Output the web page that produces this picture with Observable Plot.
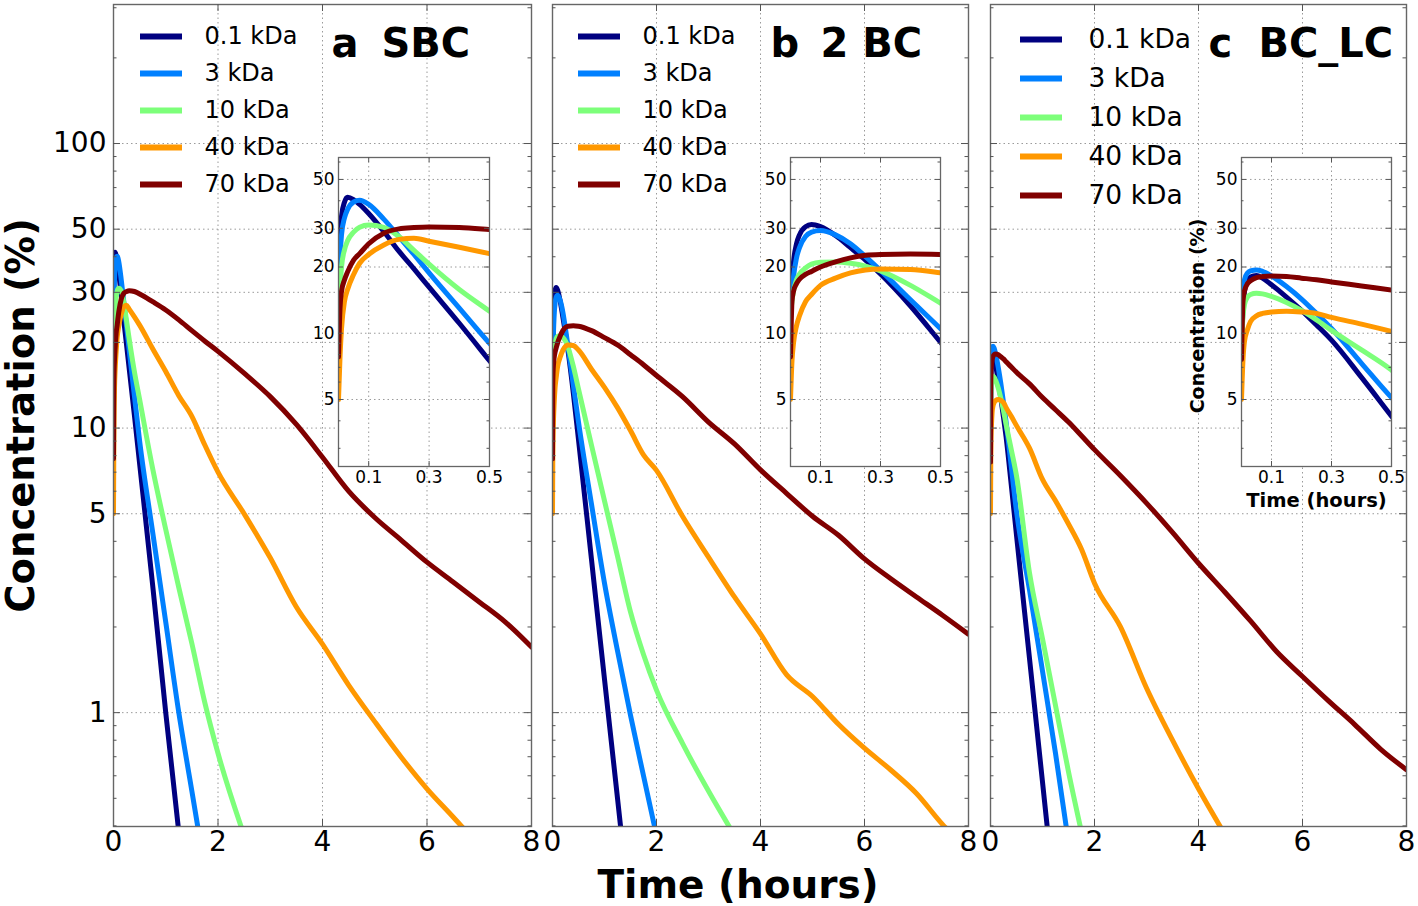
<!DOCTYPE html>
<html><head><meta charset="utf-8">
<script src="https://cdn.jsdelivr.net/npm/d3@7"></script>
<script src="https://cdn.jsdelivr.net/npm/@observablehq/plot@0.6"></script>
<style>
body{margin:0;background:#fff;}
#wrap{position:relative;width:1418px;height:906px;overflow:hidden;font-family:"DejaVu Sans";background:#fff;}
#wrap svg{position:absolute;left:0;top:0;}
.lab{position:absolute;font-family:"DejaVu Sans";font-weight:bold;font-size:39px;line-height:1;white-space:nowrap;color:#000;}
</style></head><body><div id="wrap"></div>
<script>
// ---- data ----
const series = ["0.1 kDa", "3 kDa", "10 kDa", "40 kDa", "70 kDa"];
const colors = ["#000080", "#0080ff", "#7dff7a", "#ff9800", "#800000"];
const times = [0, 0.005, 0.01, 0.02, 0.03, 0.05, 0.07, 0.1, 0.15, 0.2, 0.25, 0.3, 0.4, 0.5, 0.75, 1, 1.25, 1.5, 1.75, 2, 2.5, 3, 3.5, 4, 4.5, 5, 5.5, 6, 6.5, 7, 7.5, 8];

// a  SBC
const sbc_01 = [12, 26, 34, 39.5, 41.5, 40.5, 38.5, 35, 29, 23.6, 19.6, 16.2, 11.1, 7.5, 2.8, 1.0, 0.38];
const sbc_3  = [13, 22, 28, 33.5, 36.5, 39.5, 40.2, 38.5, 33, 27.5, 22.8, 18.8, 13, 9.0, 4.3, 2.08, 1.0, 0.53, 0.28];
const sbc_10 = [12, 16, 20, 24, 26.3, 28.8, 30.3, 31, 30.3, 27.5, 23.8, 20.6, 15.8, 12.6, 7.2, 4.4, 2.75, 1.75, 1.08, 0.72, 0.37];
const sbc_40 = [5, 7.8, 10.5, 14, 15.8, 18.5, 20.8, 22.8, 25.2, 26.7, 27, 26.2, 24.6, 23, 19, 15.8, 13, 11, 8.7, 7.0, 5.0, 3.5, 2.35, 1.74, 1.25, 0.93, 0.7, 0.54, 0.43, 0.34];
const sbc_70 = [7.8, 13, 15.5, 17.5, 19, 21.5, 23, 25.5, 28.5, 29.8, 30.2, 30.4, 30.2, 29.6, 27.8, 26, 24, 22, 20.2, 18.6, 15.6, 12.9, 10.3, 7.9, 6.0, 4.85, 4.05, 3.38, 2.88, 2.45, 2.08, 1.70];

// b  2 BC
const bc2_01 = [12, 17, 21, 25.5, 28, 30.5, 31.2, 30.5, 27.8, 24.5, 21.5, 18.6, 13.3, 9.1, 3.45, 1.31, 0.5, 0.19];
const bc2_3  = [12, 15, 18, 22, 24.5, 27.5, 28.8, 29.3, 28, 25.5, 22.3, 19.3, 14.2, 10.5, 5.4, 2.85, 1.65, 0.98, 0.6, 0.37];
const bc2_10 = [12, 14, 15.5, 17.5, 18.6, 19.8, 20.6, 21, 21.1, 20.8, 20.2, 19.2, 16.5, 13.7, 8.7, 5.55, 3.55, 2.26, 1.6, 1.2, 0.78, 0.53, 0.37];
const bc2_40 = [5, 7.5, 9, 10.8, 12, 13.9, 15, 16.5, 17.8, 18.8, 19.4, 19.6, 19.5, 18.8, 16.1, 13.9, 11.8, 9.8, 8.05, 7.1, 4.9, 3.52, 2.55, 1.89, 1.36, 1.14, 0.91, 0.75, 0.63, 0.52, 0.405, 0.33];
const bc2_70 = [7.8, 14, 15.5, 16.8, 17.6, 18.5, 19.1, 20, 21.1, 22, 22.6, 22.8, 22.9, 22.8, 22.0, 20.8, 19.6, 18.1, 16.7, 15.3, 12.9, 10.5, 8.8, 7.13, 5.9, 4.9, 4.2, 3.47, 2.96, 2.55, 2.2, 1.886];

// c  BC_LC
const bclc_01 = [8, 13, 15.5, 17.3, 18, 18.3, 17.8, 16.6, 14.6, 12.7, 10.9, 9.3, 6.3, 4.2, 1.55, 0.57, 0.21];
const bclc_3  = [10, 15, 17.5, 18.8, 19.2, 19.4, 19.1, 18.2, 16.3, 14.3, 12.3, 10.5, 7.3, 5.1, 2.7, 1.4, 0.72, 0.35];
const bclc_10 = [9, 12, 13.5, 14.6, 15, 15.2, 15.1, 14.7, 13.8, 12.7, 11.5, 10.3, 8.4, 6.8, 3.1, 1.82, 1.06, 0.62, 0.38];
const bclc_40 = [5, 7.6, 9.2, 10.4, 11.3, 12, 12.3, 12.5, 12.6, 12.5, 12.3, 11.8, 11.0, 10.2, 8.5, 6.6, 5.55, 4.6, 3.75, 2.85, 2.0, 1.22, 0.8, 0.54, 0.375];
const bclc_70 = [7.6, 14, 15.6, 16.8, 17.3, 17.9, 18.1, 18.2, 18.1, 17.8, 17.5, 17.1, 16.4, 15.7, 14.3, 12.8, 11.6, 10.5, 9.4, 8.4, 6.8, 5.45, 4.3, 3.35, 2.66, 2.1, 1.64, 1.34, 1.1, 0.91, 0.745, 0.63];

// ticks
const xTicks = [0, 2, 4, 6, 8];
const yMajor = [1, 5, 10, 20, 30, 50, 100];
const yMinor = [0.4, 0.5, 0.6, 0.7, 0.8, 0.9, 2, 3, 4, 6, 7, 8, 9, 40, 60, 70, 80, 90, 200, 300];
const insetXTicks = [0.1, 0.3, 0.5];
const insetYMajor = [5, 10, 20, 30, 50];
const insetYMinor = [3, 4, 6, 7, 8, 9, 40, 60];

// ---- layout ----
const W = 1418, H = 906;
const TOP = 4, BOTTOM = 826, ITOP = 157, IBOTTOM = 466;
const Y_DOMAIN = [0.398, 308], IY_DOMAIN = [2.48, 62.9];
const FONT = "DejaVu Sans";
const GRID = {stroke: "#9a9a9a", strokeDasharray: "1.5,3", strokeWidth: 1};

const panels = [
  {key: "a", name: "SBC", data: [sbc_01, sbc_3, sbc_10, sbc_40, sbc_70], left: 113, right: 531, inset: [338, 489], yLabels: true,
   leg: {x1: 140, x2: 182, y0: 35.5, y1: 183.5, font: 24, dx: 22}},
  {key: "b", name: "2 BC", data: [bc2_01, bc2_3, bc2_10, bc2_40, bc2_70], left: 552, right: 968, inset: [790, 940],
   leg: {x1: 578, x2: 620, y0: 36, y1: 184, font: 24, dx: 22}},
  {key: "c", name: "BC_LC", data: [bclc_01, bclc_3, bclc_10, bclc_40, bclc_70], left: 990, right: 1406, inset: [1241, 1391], insetLabels: true,
   leg: {x1: 1020, x2: 1062, y0: 38, y1: 195, font: 26.5, dx: 26}}
];

function rowsFor(arrs) {
  const out = [];
  arrs.forEach((vals, i) => vals.forEach((v, j) => { if (v != null) out.push({t: times[j], c: v, s: series[i]}); }));
  return out;
}

const baseStyle = {background: "transparent", fontFamily: FONT, overflow: "visible", color: "#000"};
const colorScale = {domain: series, range: colors};

function mainPanel(p, rows) {
  const ux = 8 / (p.right - p.left);                 // data units per px (x)
  const k = Math.pow(10, 1 / 284.5);                  // log factor per px (y)
  const lo = Y_DOMAIN[0], hi = Y_DOMAIN[1];
  const marks = [
    Plot.ruleY(yMajor, GRID),
    Plot.ruleX([2, 4, 6], GRID),
    Plot.line(rows, {x: "t", y: "c", z: "s", stroke: "s", strokeWidth: 5, curve: "monotone-x", clip: true}),
    Plot.frame({stroke: "#666", strokeWidth: 1.4}),
    // inward tick marks
    Plot.ruleY(yMajor, {x1: 0, x2: 7 * ux, stroke: "#555"}),
    Plot.ruleY(yMajor, {x1: 8 - 7 * ux, x2: 8, stroke: "#555"}),
    Plot.ruleY(yMinor, {x1: 0, x2: 3.5 * ux, stroke: "#555"}),
    Plot.ruleY(yMinor, {x1: 8 - 3.5 * ux, x2: 8, stroke: "#555"}),
    Plot.ruleX([2, 4, 6], {y1: lo, y2: lo * Math.pow(k, 7), stroke: "#555"}),
    Plot.ruleX([2, 4, 6], {y1: hi, y2: hi / Math.pow(k, 7), stroke: "#555"}),
    Plot.text(xTicks, {x: d => d, y: lo, dy: 16, text: d => String(d), fontSize: 28, fill: "#000"}),
    Plot.text([p.key], {frameAnchor: "top-left", dx: 218, dy: 40, text: d => d, fontSize: 40, fontWeight: "bold", textAnchor: "start", lineAnchor: "middle", fill: "#000"}),
    Plot.text([p.name], {frameAnchor: "top-left", dx: 268, dy: 40, text: d => d, fontSize: 40, fontWeight: "bold", textAnchor: "start", lineAnchor: "middle", fill: "#000"})
  ];
  if (p.yLabels) {
    marks.push(Plot.text(yMajor, {x: 0, y: d => d, dx: -7, text: d => String(d), textAnchor: "end", fontSize: 28, fill: "#000"}));
    marks.push(Plot.text(["Concentration (%)"], {frameAnchor: "left", dx: -92, rotate: -90, text: d => d, textAnchor: "middle", lineAnchor: "middle", fontSize: 38.5, fontWeight: "bold", fill: "#000"}));
  }
  return Plot.plot({
    width: W, height: H,
    marginLeft: p.left, marginRight: W - p.right, marginTop: TOP, marginBottom: H - BOTTOM,
    x: {domain: [0, 8], axis: null},
    y: {type: "log", domain: Y_DOMAIN, axis: null},
    color: colorScale,
    style: baseStyle,
    marks
  });
}

function legendPanel(p) {
  const L = p.leg;
  return Plot.plot({
    width: W, height: H, margin: 0,
    x: {domain: [0, 1], range: [L.x1, L.x2], axis: null},
    y: {type: "point", domain: series, range: [L.y0, L.y1], padding: 0, axis: null},
    color: colorScale,
    style: baseStyle,
    marks: [
      Plot.ruleY(series, {y: d => d, x1: 0, x2: 1, stroke: d => d, strokeWidth: 6}),
      Plot.text(series, {x: 1, y: d => d, dx: L.dx, text: d => d, textAnchor: "start", fontSize: L.font, fill: "#000"})
    ]
  });
}

function insetPanel(p, rows) {
  const [x0, x1] = p.inset;
  const ux = 0.5 / (x1 - x0);
  const k = Math.pow(10, 1 / 220);
  const lo = IY_DOMAIN[0], hi = IY_DOMAIN[1];
  const sub = rows.filter(d => d.t <= 0.75);
  const marks = [
    Plot.frame({fill: "white"}),
    Plot.ruleY(insetYMajor, GRID),
    Plot.ruleX([0.1, 0.3], GRID),
    Plot.line(sub, {x: "t", y: "c", z: "s", stroke: "s", strokeWidth: 5, curve: "monotone-x", clip: true}),
    Plot.frame({stroke: "#666", strokeWidth: 1.3}),
    Plot.ruleY(insetYMajor, {x1: 0, x2: 5 * ux, stroke: "#555"}),
    Plot.ruleY(insetYMajor, {x1: 0.5 - 5 * ux, x2: 0.5, stroke: "#555"}),
    Plot.ruleY(insetYMinor, {x1: 0, x2: 2.5 * ux, stroke: "#555"}),
    Plot.ruleY(insetYMinor, {x1: 0.5 - 2.5 * ux, x2: 0.5, stroke: "#555"}),
    Plot.ruleX([0.1, 0.3], {y1: lo, y2: lo * Math.pow(k, 5), stroke: "#555"}),
    Plot.ruleX([0.1, 0.3], {y1: hi, y2: hi / Math.pow(k, 5), stroke: "#555"}),
    Plot.text(insetYMajor, {x: 0, y: d => d, dx: -4, text: d => String(d), textAnchor: "end", fontSize: 17, fill: "#000"}),
    Plot.text(insetXTicks, {x: d => d, y: lo, dy: 11, text: d => String(d), fontSize: 17, fill: "#000"})
  ];
  if (p.insetLabels) {
    marks.push(Plot.text(["Concentration (%)"], {frameAnchor: "left", dx: -44, dy: 4, rotate: -90, text: d => d, textAnchor: "middle", lineAnchor: "middle", fontSize: 19, fontWeight: "bold", fill: "#000"}));
    marks.push(Plot.text(["Time (hours)"], {frameAnchor: "bottom", dy: 34, text: d => d, textAnchor: "middle", lineAnchor: "middle", fontSize: 19.5, fontWeight: "bold", fill: "#000"}));
  }
  return Plot.plot({
    width: W, height: H,
    marginLeft: x0, marginRight: W - x1, marginTop: ITOP, marginBottom: H - IBOTTOM,
    x: {domain: [0, 0.5], axis: null},
    y: {type: "log", domain: IY_DOMAIN, axis: null},
    color: colorScale,
    style: baseStyle,
    marks
  });
}

const wrap = document.getElementById("wrap");
for (const p of panels) {
  const rows = rowsFor(p.data);
  wrap.appendChild(mainPanel(p, rows));
  wrap.appendChild(legendPanel(p));
  wrap.appendChild(insetPanel(p, rows));
}

// shared x-axis title
const xl = document.createElement("div");
xl.className = "lab";
xl.textContent = "Time (hours)";
xl.style.left = "738px"; xl.style.top = "884px";
xl.style.transform = "translate(-50%,-50%)";
wrap.appendChild(xl);
</script></body></html>
